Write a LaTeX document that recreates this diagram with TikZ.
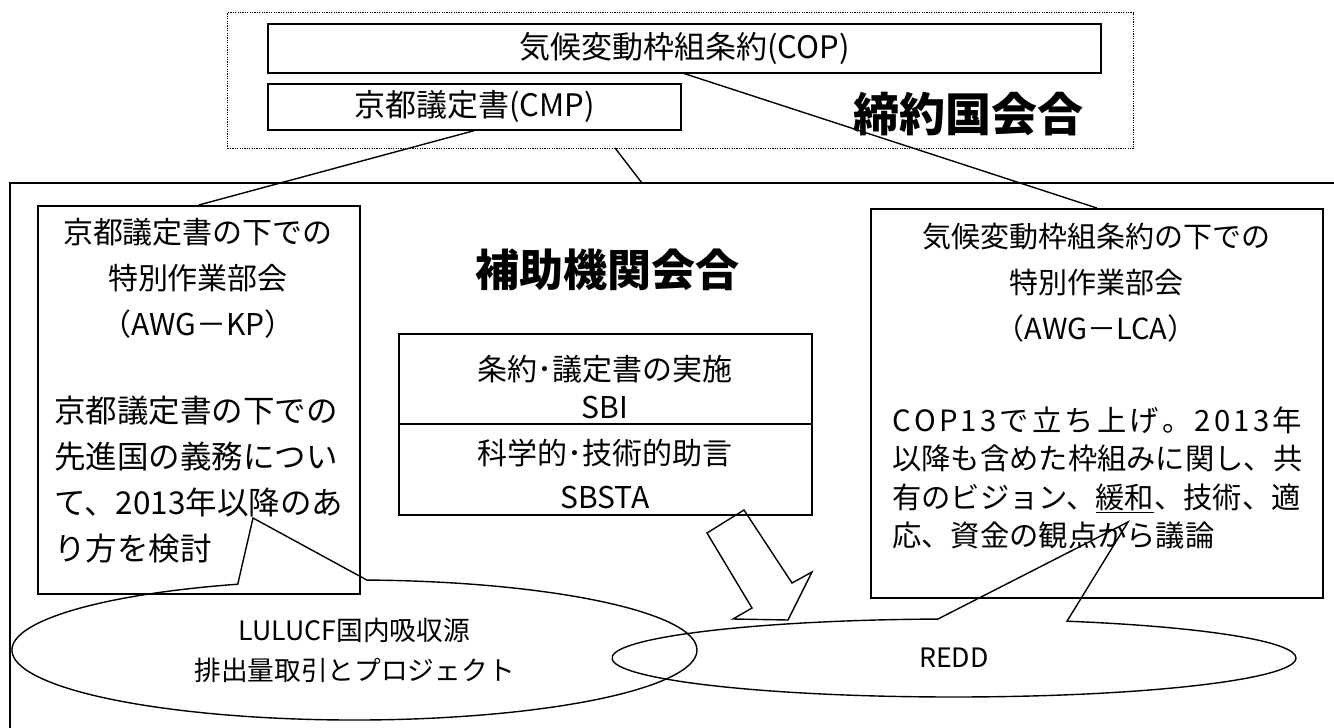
\documentclass[tikz,border=0pt]{standalone}
\usepackage{fontspec}
\setmainfont{Noto Sans CJK JP}
\usetikzlibrary{shapes.callouts,calc}
\newcommand\fsz[2]{\fontsize{#1}{#2}\selectfont}
\def\spreadchars#1{\ifx#1\relax\else#1\hfil\expandafter\spreadchars\fi}
\begin{document}
\begin{tikzpicture}[x=1pt,y=-1pt,
  box/.style={draw, line width=1.6pt, inner sep=0pt},
  txt/.style={inner sep=0pt},
  conn/.style={line width=1.4pt},
  balloon/.style={ellipse callout, draw, line width=1.4pt, inner sep=0pt, callout pointer arc=22},
]
\useasboundingbox (0,0) rectangle (1334,728);
\fill[white] (0,0) rectangle (1334,728);

% Conference of the Parties
\node[draw, dash pattern=on 1.2pt off 1.2pt, line width=1.2pt, minimum width=906pt, minimum height=136pt, anchor=north west, inner sep=0pt] (parties) at (227,12) {};
\node[box, minimum width=833pt, minimum height=49pt, anchor=north west, font=\fsz{31}{31}] (cop) at (267,23) {気候変動枠組条約(COP)};
\node[box, minimum width=413pt, minimum height=46pt, anchor=north west, font=\fsz{31}{31}] (cmp) at (267,83) {京都議定書(CMP)};
\node[txt, font=\fsz{46}{46}\bfseries] (ptitle) at (968,114) {締約国会合};

% Subsidiary bodies frame
\coordinate (sbtl) at (10,183);
\coordinate (sbtr) at (1340,183);
\coordinate (sbbl) at (10,740);
\draw[line width=1.6pt] (sbtr) -- (sbtl) -- (sbbl);
\node[txt, font=\fsz{44}{44}\bfseries] (stitle) at (607,270) {補助機関会合};

% AWG-KP
\node[box, minimum width=322pt, minimum height=388pt, anchor=north west] (kp) at (37,205) {};
\node[txt, align=center, font=\fsz{30}{46}] (kph) at (198,278) {京都議定書の下での\\特別作業部会\\（AWG－KP）};
\node[txt, align=left, anchor=west, font=\fsz{31.5}{46}] (kpb) at (54,480) {京都議定書の下での\\先進国の義務につい\\て、2013年以降のあ\\り方を検討};

% SBI / SBSTA
\node[box, minimum width=413pt, minimum height=90pt, anchor=north west] (sbi) at (398,333) {};
\node[box, minimum width=413pt, minimum height=91pt, anchor=north west] (sbsta) at (398,423) {};
\node[txt, align=center, font=\fsz{30}{38}] (sbit) at (605,387) {条約･議定書の実施\\SBI};
\node[txt, align=center, font=\fsz{30}{44}] (sbstat) at (605,474) {科学的･技術的助言\\SBSTA};

% AWG-LCA
\node[box, minimum width=452pt, minimum height=389pt, anchor=north west] (lca) at (870,208) {};
\node[txt, align=center, font=\fsz{29}{46}] (lcah) at (1096,283) {気候変動枠組条約の下での\\特別作業部会\\（AWG－LCA）};
\node[txt, align=left, anchor=west, font=\fsz{29.3}{38.3}] (lcab) at (892,478) {\makebox[410pt][s]{\spreadchars COP13で立ち上げ。2013年\relax\unskip}\\以降も含めた枠組みに関し、共\\有のビジョン、\underline{緩和}、技術、適\\応、資金の観点から議論};

% connectors
\coordinate (pbot) at (615,148);
\coordinate (sbtop) at (642,183);
\draw[conn] (cmp.south) -- (kp.north);
\draw[conn] (cop.south) -- (lca.north);
\draw[conn] (pbot) -- (sbtop);

% callouts
\coordinate (tipL) at (253,518);
\coordinate (tipR) at (1128,522);
\node[balloon, minimum width=685pt, minimum height=140pt, callout absolute pointer={(tipL)}, align=center, font=\fsz{26.7}{40}] (lulucf) at (354.5,650) {LULUCF国内吸収源\\排出量取引とプロジェクト};
\node[balloon, minimum width=684pt, minimum height=78pt, callout absolute pointer={(tipR)}, font=\fsz{26.7}{30}] (redd) at (954,658) {REDD};

% block arrow
\draw[line width=1.4pt, line join=miter] (707,533) -- (744,510) -- (792,583) -- (812,572) -- (788,620) -- (733,619) -- (752,608) -- cycle;
\end{tikzpicture}
\end{document}
